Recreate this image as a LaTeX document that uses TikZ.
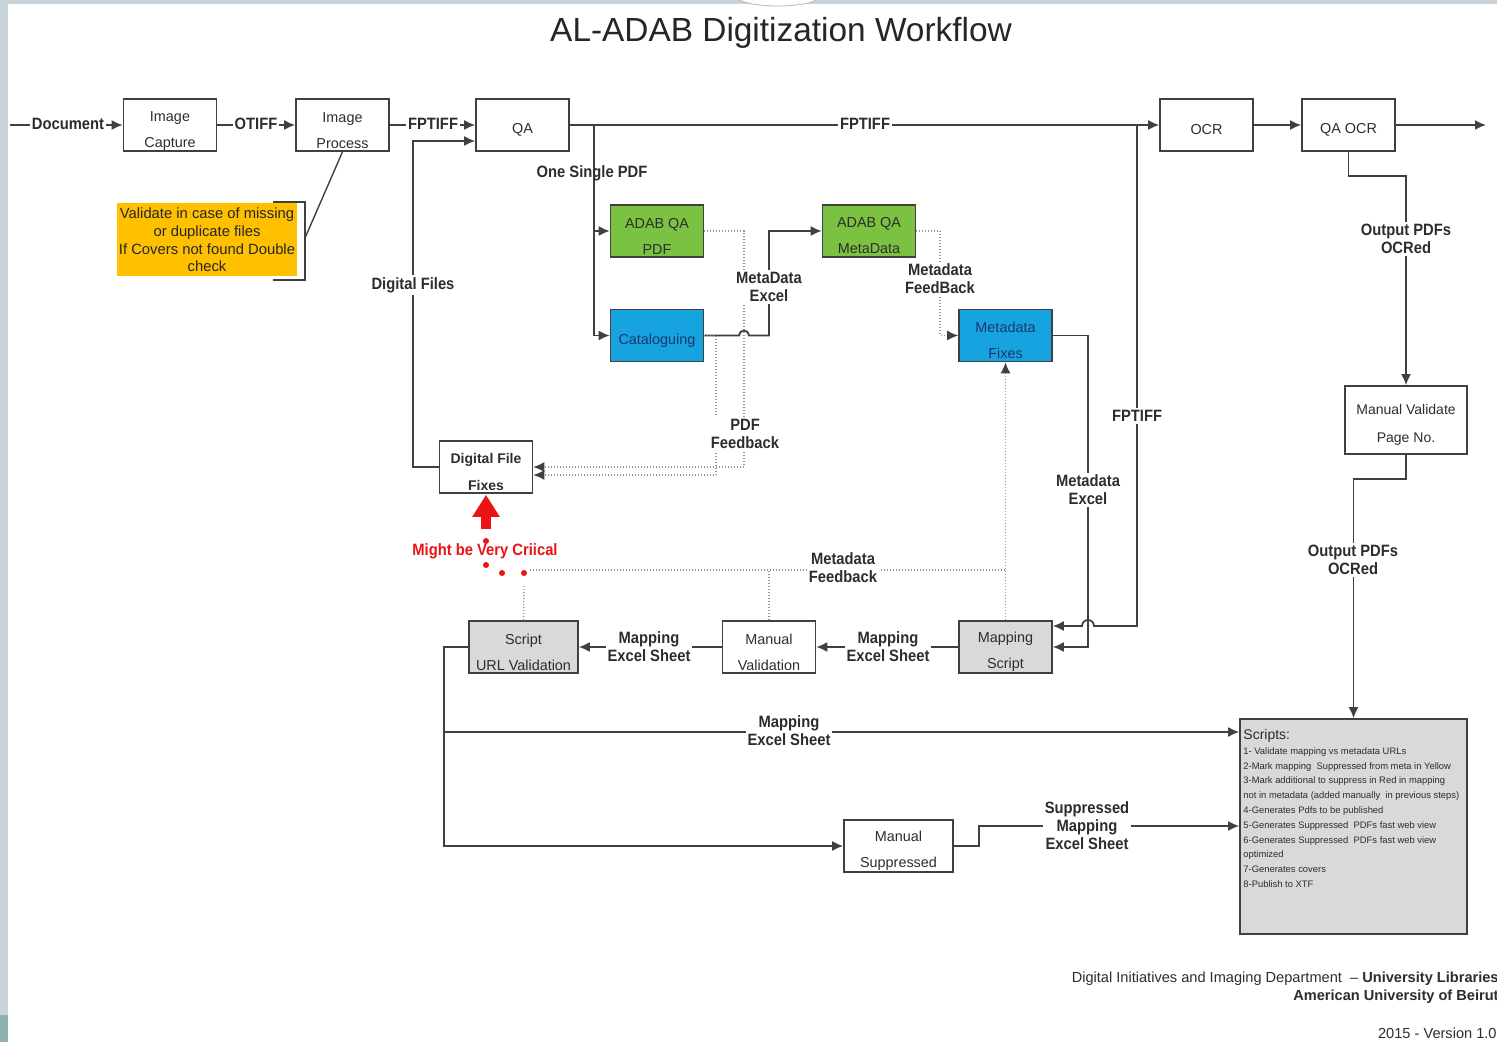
\documentclass[tikz,border=0pt]{standalone}
\usepackage{fontspec}
\setmainfont{Liberation Sans}
\newfontfamily\narrowfont[FakeStretch=0.9]{Liberation Sans}
\usetikzlibrary{arrows.meta}

\definecolor{lineclr}{RGB}{64,64,64}
\definecolor{txtclr}{RGB}{45,45,45}
\definecolor{fbclr}{RGB}{150,150,150}
\definecolor{qagreen}{RGB}{124,194,66}
\definecolor{catblue}{RGB}{22,163,224}
\definecolor{navy}{RGB}{25,55,110}
\definecolor{scriptgray}{RGB}{217,217,217}
\definecolor{noteyellow}{RGB}{255,192,0}
\definecolor{alertred}{RGB}{235,20,20}
\definecolor{framegray}{RGB}{200,212,217}
\definecolor{frameteal}{RGB}{143,178,176}

\tikzset{
  box/.style={draw=lineclr, line width=0.8pt, inner sep=0pt, minimum width=46.5pt, minimum height=26pt},
  wide/.style={minimum width=54.5pt},
  btxt/.style={font=\fontsize{7.2}{13}\selectfont, align=center, text=txtclr, inner sep=0pt},
  conn/.style={draw=lineclr, line width=0.9pt},
  arr/.style={conn, -{Latex[length=5.5pt,width=5pt]}},
  fb/.style={draw=fbclr, line width=0.7pt, dash pattern=on 0.5pt off 1pt},
  fbarr/.style={fb, -{Latex[length=5.5pt,width=5pt,color=lineclr]}},
  lbl/.style={font=\narrowfont\bfseries\fontsize{8.2}{9}\selectfont, align=center, text=txtclr, fill=white, inner sep=1pt},
  reddot/.style={fill=alertred},
}

\begin{document}
\begin{tikzpicture}[x=0.5pt,y=-0.5pt]
\useasboundingbox (0,0) rectangle (1497,1042);

% slide frame
\fill[white] (0,0) rectangle (1497,1042);
\fill[framegray] (0,0) rectangle (1497,4);
\fill[framegray] (0,0) rectangle (8,1042);
\fill[frameteal] (0,1015) rectangle (8,1042);
\filldraw[fill=white, draw=framegray!70!gray, line width=0.4pt] (778,-4) ellipse (42 and 10);

% title
\node[font=\fontsize{16.7}{20}\selectfont, text=black!85] (title) at (781,33) {AL-ADAB Digitization Workflow};

% ---- process boxes ----
\node[box] (cap) at (170,125) {};
\node[btxt] (cap-t) at ([yshift=-3pt]cap.center) {Image\\Capture};
\node[box] (proc) at (342.5,125) {};
\node[btxt] (proc-t) at ([yshift=-3pt]proc.center) {Image\\Process};
\node[box] (qa) at (522.5,125) {};
\node[btxt] (qa-t) at ([yshift=-2.5pt]qa.center) {QA};
\node[box] (ocr) at (1206.5,125) {};
\node[btxt] (ocr-t) at ([yshift=-2.5pt]ocr.center) {OCR};
\node[box] (qaocr) at (1348.5,125) {};
\node[btxt] (qaocr-t) at ([yshift=-2.5pt]qaocr.center) {QA OCR};

\node[fill=noteyellow, minimum width=90pt, minimum height=36.5pt, inner sep=0pt,
      font=\fontsize{7.4}{8.8}\selectfont, align=center, text=black!85] (note) at (207,240)
      {Validate in case of missing\\or duplicate files\\If Covers not found Double\\check};

\node[box, fill=qagreen] (pdfqa) at (657,231) {};
\node[btxt] (pdfqa-t) at ([yshift=-2.5pt]pdfqa.center) {ADAB QA\\PDF};
\node[box, fill=catblue] (cat) at (657,335.5) {};
\node[btxt, text=navy] (cat-t) at ([yshift=-2.5pt]cat.center) {Cataloguing};
\node[box, fill=qagreen] (mdqa) at (869,231) {};
\node[btxt] (mdqa-t) at ([yshift=-2.5pt]mdqa.center) {ADAB QA\\MetaData};
\node[box, fill=catblue] (mdfix) at (1005.5,335.5) {};
\node[btxt, text=navy] (mdfix-t) at ([yshift=-2.5pt]mdfix.center) {Metadata\\Fixes};

\node[box] (dff) at (486,467) {};
\node[btxt, font=\bfseries\fontsize{7}{13.5}\selectfont] (dff-t) at ([yshift=-2.5pt]dff.center) {Digital File\\Fixes};

\node[box, minimum width=61pt, minimum height=34pt] (mvp) at (1406,420) {};
\node[btxt, font=\fontsize{7}{14}\selectfont] (mvp-t) at ([yshift=-2.5pt]mvp.center) {Manual Validate\\Page No.};

\node[box, wide, fill=scriptgray] (surl) at (523.5,647) {};
\node[btxt] (surl-t) at ([yshift=-2.5pt]surl.center) {Script\\URL Validation};
\node[box] (manval) at (769,647) {};
\node[btxt] (manval-t) at ([yshift=-2.5pt]manval.center) {Manual\\Validation};
\node[box, fill=scriptgray] (mapsc) at (1005.5,647) {};
\node[btxt] (mapsc-t) at ([yshift=-2.5pt]mapsc.center) {Mapping\\Script};
\node[box, wide] (mansup) at (898.5,846) {};
\node[btxt] (mansup-t) at ([yshift=-2.5pt]mansup.center) {Manual\\Suppressed};

\node[box, fill=scriptgray, minimum width=113.5pt, minimum height=107.5pt] (scripts) at (1353.5,826.5) {};
\node[anchor=north west, inner sep=0pt, align=left, text=txtclr,
      font=\fontsize{4.7}{7.4}\selectfont] (scripts-t) at (1243,729)
  {{\fontsize{7}{7.4}\selectfont Scripts:}\\
   1- Validate mapping vs metadata URLs\\
   2-Mark mapping \ Suppressed from meta in Yellow\\
   3-Mark additional to suppress in Red in mapping\\
   not in metadata (added manually \ in previous steps)\\
   4-Generates Pdfs to be published\\
   5-Generates Suppressed \ PDFs fast web view\\
   6-Generates Suppressed \ PDFs fast web view\\
   optimized\\
   7-Generates covers\\
   8-Publish to XTF};

% ---- main line ----
\coordinate (docin) at (10,125);
\coordinate (outend) at (1486,125);
\draw[arr] (docin) -- (cap);
\draw[arr] (cap) -- (proc);
\draw[arr] (proc) -- (qa);
\draw[arr] (qa) -- (ocr);
\draw[arr] (ocr) -- (qaocr);
\draw[arr] (qaocr) -- (outend);

% note bracket
\coordinate (brk) at (305,238);
\draw[conn, line width=0.7pt] (273,202) -- (305,202) -- (305,280) -- (273,280);
\draw[conn, line width=0.7pt] (brk) -- (proc.south);

% digital files back to QA
\coordinate (dfup) at (413,141);
\draw[arr] (dff.west) -| (dfup) -- (qa.west |- dfup);

% QA outputs
\coordinate (j3) at (594,125);
\draw[arr] (j3) |- (pdfqa.west);
\draw[arr] (j3) |- (cat.west);

% cataloguing -> metadata QA (jump over the feedback line)
\draw[arr] (cat.east) -- (739,335.5) arc (180:360:5) -- (769,335.5) |- (mdqa.west);

% feedback to digital file fixes
\draw[fbarr] (pdfqa.east) -| (744,467) -- (dff.east);
\draw[fbarr] (cat.east) -| (716,475) -- ([yshift=-4pt]dff.east);

% metadata feedback
\draw[fbarr] (mdqa.east) -| (940,335.5) -- (mdfix.west);

% metadata excel to mapping script
\coordinate (k1) at (1088,647);
\draw[arr] (mdfix.east) -| (k1) -- (mapsc.east |- k1);

% FPTIFF branch to mapping script (jump over metadata excel)
\coordinate (j1) at (1137,125);
\coordinate (j2) at (1137,626);
\draw[arr] (j1) -- (j2) -- (1094,626) arc (0:-180:6) -- (mapsc.east |- j2);

% mapping chain
\draw[arr] (mapsc.west) -- (manval.east);
\draw[arr] (manval.west) -- (surl.east);
\coordinate (j5) at (444,732);
\draw[arr] (surl.west) -| (444,846) -- (mansup.west);
\draw[arr] (j5) -- (scripts.west |- j5);
\coordinate (j6) at (979,826);
\draw[arr] (mansup.east) -| (j6) -- (scripts.west |- j6);

% OCR outputs
\draw[arr] (qaocr.south) |- (1406,176) -- (mvp.north);
\coordinate (j7) at (1353.5,479);
\draw[arr] (mvp.south) |- (j7) -- (scripts.north);

% metadata feedback from the bottom row
\draw[fbarr] (mapsc.north) -- (mdfix.south);
\draw[fb] (530,570) -- (1005,570);
\draw[fb] (manval.north) -- (769,570);
\draw[fb] (surl.north) -- (524,586);

% critical marker
\coordinate (crit) at (486,529);
\draw[alertred, line width=5pt, -{Triangle[length=11pt,width=13pt]}] (crit) -- ([yshift=-0.5pt]dff.south);
\fill[reddot] (524,573) circle (3);
\fill[reddot] (502,573) circle (3);
\fill[reddot] (486,565) circle (3);
\fill[reddot] (486,541) circle (3);

% ---- labels ----
\node[lbl] (l-doc) at (68,124) {Document};
\node[lbl] (l-otiff) at (256,124) {OTIFF};
\node[lbl] (l-fp1) at (433,124) {FPTIFF};
\node[lbl] (l-fp2) at (865,124) {FPTIFF};
\node[lbl, fill=none] (l-single) at (592,173) {One Single PDF};
\node[lbl] (l-df) at (413,285) {Digital Files};
\node[lbl] (l-mdx) at (769,287) {MetaData\\Excel};
\node[lbl] (l-pdffb) at (745,434) {PDF\\Feedback};
\node[lbl] (l-mdfb) at (940,279) {Metadata\\FeedBack};
\node[lbl] (l-fp3) at (1137,416) {FPTIFF};
\node[lbl] (l-mdx2) at (1088,490) {Metadata\\Excel};
\node[lbl] (l-mdfb2) at (843,568) {Metadata\\Feedback};
\node[lbl] (l-map1) at (888,647) {Mapping\\Excel Sheet};
\node[lbl] (l-map2) at (649,647) {Mapping\\Excel Sheet};
\node[lbl] (l-map3) at (789,731) {Mapping\\Excel Sheet};
\node[lbl] (l-sup) at (1087,826) {Suppressed\\Mapping\\Excel Sheet};
\node[lbl] (l-out1) at (1406,239) {Output PDFs\\OCRed};
\node[lbl] (l-out2) at (1353,560) {Output PDFs\\OCRed};
\node[lbl, fill=none, text=alertred] (l-crit) at (485,551) {Might be Very Criical};

% footer
\node[anchor=east, inner sep=0pt, font=\fontsize{7.3}{9}\selectfont, text=txtclr] (ft1) at (1499,979)
  {Digital Initiatives and Imaging Department \ -- \textbf{University Libraries}};
\node[anchor=east, inner sep=0pt, font=\bfseries\fontsize{7.3}{9}\selectfont, text=txtclr] (ft2) at (1499,997)
  {American University of Beirut};
\node[anchor=east, inner sep=0pt, font=\fontsize{7.3}{9}\selectfont, text=txtclr] (ft3) at (1497,1033)
  {2015 - Version 1.0};
\end{tikzpicture}
\end{document}
